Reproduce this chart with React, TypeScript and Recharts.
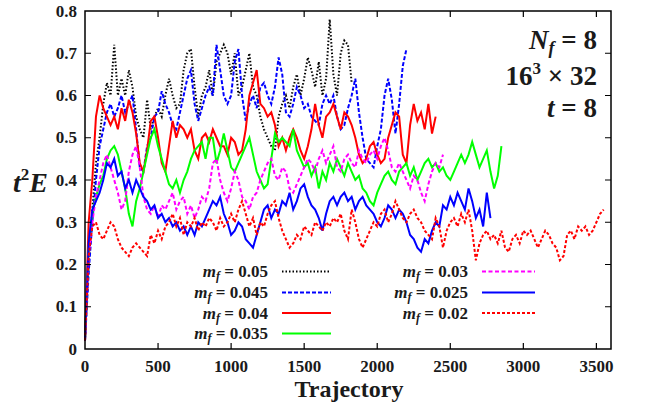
import { Line, LineChart, XAxis, YAxis } from "recharts";

const TRAJ_STEP = 25;
const xTicks = [0, 500, 1000, 1500, 2000, 2500, 3000, 3500];
const yTicks = [0, 0.1, 0.2, 0.3, 0.4, 0.5, 0.6, 0.7, 0.8];

// t^2 E per trajectory (every 25 trajectories)
const mf050 = [
  0.02, 0.2, 0.33, 0.44, 0.5, 0.58, 0.63, 0.6, 0.72, 0.6, 0.64, 0.6, 0.66, 0.62, 0.55, 0.52,
  0.5, 0.59, 0.52, 0.55, 0.57, 0.55, 0.6, 0.64, 0.6, 0.57, 0.58, 0.66, 0.7, 0.71, 0.62, 0.55,
  0.6, 0.62, 0.66, 0.6, 0.68, 0.7, 0.72, 0.7, 0.65, 0.7, 0.6, 0.62, 0.66, 0.7, 0.62, 0.6,
  0.55, 0.52, 0.5, 0.48, 0.47, 0.55, 0.58, 0.6, 0.57, 0.62, 0.65, 0.6, 0.64, 0.69, 0.66, 0.62,
  0.68, 0.6, 0.64, 0.78, 0.65, 0.6, 0.7, 0.73, 0.72, 0.63,
];
const mf045 = [
  0.02, 0.18, 0.3, 0.4, 0.48, 0.52, 0.56, 0.58, 0.55, 0.57, 0.6, 0.56, 0.58, 0.6, 0.52, 0.43,
  0.42, 0.48, 0.5, 0.55, 0.56, 0.61, 0.58, 0.56, 0.53, 0.52, 0.56, 0.6, 0.64, 0.66, 0.58, 0.54,
  0.57, 0.6, 0.62, 0.6, 0.72, 0.66, 0.6, 0.58, 0.6, 0.68, 0.71, 0.6, 0.54, 0.58, 0.6, 0.57,
  0.62, 0.63, 0.6, 0.58, 0.62, 0.69, 0.65, 0.56, 0.55, 0.58, 0.62, 0.6, 0.57, 0.58, 0.55, 0.54,
  0.53, 0.58, 0.6, 0.58, 0.6, 0.55, 0.52, 0.53, 0.57, 0.6, 0.64, 0.56, 0.5, 0.45, 0.44, 0.43,
  0.48, 0.52, 0.6, 0.64, 0.59, 0.51, 0.58, 0.67, 0.71,
];
const mf040 = [
  0.02, 0.3, 0.4, 0.55, 0.6, 0.57, 0.55, 0.53, 0.55, 0.52, 0.57, 0.54, 0.59, 0.56, 0.51, 0.44,
  0.42, 0.47, 0.54, 0.55, 0.5, 0.44, 0.42, 0.48, 0.54, 0.5, 0.53, 0.52, 0.5, 0.52, 0.47, 0.45,
  0.5, 0.51, 0.49, 0.52, 0.5, 0.48, 0.48, 0.46, 0.5, 0.49, 0.46, 0.47, 0.52, 0.6, 0.63, 0.66,
  0.58, 0.57, 0.55, 0.56, 0.53, 0.48, 0.5, 0.47, 0.5, 0.52, 0.5, 0.47, 0.45, 0.48, 0.52, 0.58,
  0.53, 0.5, 0.55, 0.56, 0.58, 0.55, 0.52, 0.56, 0.55, 0.53, 0.5, 0.46, 0.44, 0.45, 0.48, 0.49,
  0.46, 0.44, 0.45, 0.5, 0.53, 0.56, 0.55, 0.46, 0.44, 0.53, 0.58, 0.54, 0.56, 0.52, 0.58, 0.51,
  0.55,
];
const mf035 = [
  0.02, 0.24, 0.32, 0.36, 0.39, 0.41, 0.45, 0.47, 0.48, 0.46, 0.42, 0.38, 0.32, 0.29, 0.35, 0.38,
  0.42, 0.46, 0.5, 0.52, 0.48, 0.45, 0.42, 0.39, 0.38, 0.4, 0.37, 0.4, 0.42, 0.45, 0.47, 0.48,
  0.49, 0.45, 0.5, 0.5, 0.44, 0.47, 0.51, 0.47, 0.43, 0.42, 0.44, 0.46, 0.48, 0.5, 0.46, 0.42,
  0.4, 0.38, 0.39, 0.45, 0.51, 0.49, 0.5, 0.49, 0.48, 0.52, 0.47, 0.45, 0.43, 0.44, 0.41, 0.43,
  0.38, 0.42, 0.4, 0.44, 0.42, 0.45, 0.43, 0.41, 0.44, 0.42, 0.4, 0.41, 0.38, 0.37, 0.35, 0.34,
  0.37, 0.39, 0.41, 0.42, 0.4, 0.39, 0.42, 0.43, 0.44, 0.41, 0.43, 0.4, 0.42, 0.44, 0.45, 0.43,
  0.44, 0.42, 0.43, 0.41, 0.4, 0.42, 0.44, 0.46, 0.44, 0.46, 0.49, 0.46, 0.43, 0.45, 0.47, 0.42,
  0.38, 0.41, 0.48,
];
const mf030 = [
  0.02, 0.22, 0.3, 0.36, 0.4, 0.44, 0.46, 0.43, 0.4, 0.37, 0.33, 0.35, 0.42, 0.46, 0.48, 0.43,
  0.36, 0.33, 0.32, 0.34, 0.31, 0.34, 0.33, 0.35, 0.37, 0.33, 0.35, 0.36, 0.32, 0.34, 0.31, 0.33,
  0.36, 0.35, 0.38, 0.44, 0.45, 0.4, 0.37, 0.35, 0.38, 0.42, 0.4, 0.36, 0.35, 0.33, 0.36, 0.37,
  0.4, 0.42, 0.44, 0.45, 0.41, 0.4, 0.43, 0.42, 0.38, 0.37, 0.39, 0.41, 0.43, 0.45, 0.44, 0.42,
  0.45, 0.47, 0.44, 0.46, 0.48, 0.43, 0.42, 0.45, 0.46, 0.44, 0.43, 0.47, 0.45, 0.44, 0.46, 0.47,
  0.45, 0.48, 0.5, 0.47, 0.43, 0.42, 0.44, 0.42, 0.4, 0.38, 0.41, 0.4, 0.37, 0.35, 0.39, 0.42,
  0.44, 0.43, 0.46,
];
const mf025 = [
  0.02, 0.25, 0.33, 0.35, 0.37, 0.4, 0.44, 0.43, 0.45, 0.41, 0.42, 0.38, 0.4, 0.37, 0.4, 0.38,
  0.36, 0.35, 0.33, 0.34, 0.31, 0.32, 0.3, 0.31, 0.29, 0.3, 0.28, 0.29, 0.27, 0.29, 0.27, 0.3,
  0.29, 0.31, 0.33, 0.35, 0.34, 0.36, 0.32, 0.3, 0.27, 0.28, 0.3, 0.29, 0.26, 0.25, 0.24, 0.27,
  0.3, 0.33, 0.34, 0.31, 0.33, 0.32, 0.35, 0.34, 0.37, 0.33, 0.35, 0.38, 0.39, 0.36, 0.34, 0.33,
  0.31, 0.28, 0.32, 0.35, 0.36, 0.34, 0.36, 0.37, 0.35, 0.36, 0.33, 0.35, 0.36, 0.34, 0.33, 0.32,
  0.3, 0.29, 0.31, 0.34, 0.33, 0.31, 0.33, 0.32, 0.3, 0.27, 0.26, 0.24, 0.23, 0.26, 0.25, 0.28,
  0.3, 0.29, 0.34, 0.33, 0.36, 0.34, 0.37, 0.35, 0.33, 0.38, 0.35, 0.31, 0.33, 0.29, 0.37, 0.31,
];
const mf020 = [
  0.02, 0.22, 0.29, 0.3, 0.27, 0.26, 0.28, 0.3, 0.29, 0.26, 0.24, 0.23, 0.22, 0.24, 0.25, 0.24,
  0.23, 0.22, 0.27, 0.25, 0.28, 0.26, 0.29, 0.3, 0.32, 0.29, 0.31, 0.27, 0.3, 0.29, 0.31, 0.28,
  0.3, 0.29, 0.31, 0.3, 0.28, 0.31, 0.29, 0.3, 0.32, 0.3, 0.33, 0.35, 0.32, 0.29, 0.31, 0.27,
  0.3, 0.29, 0.32, 0.34, 0.35, 0.31, 0.28, 0.26, 0.24, 0.25, 0.27, 0.26, 0.29, 0.28, 0.27, 0.3,
  0.29, 0.28, 0.3, 0.29, 0.31, 0.3, 0.32, 0.28, 0.26, 0.33, 0.3, 0.26, 0.24, 0.26, 0.28, 0.3,
  0.29, 0.32, 0.33, 0.3, 0.32, 0.35, 0.33, 0.31, 0.3, 0.32, 0.33, 0.31, 0.3, 0.28, 0.27, 0.26,
  0.31, 0.29, 0.24, 0.28, 0.3, 0.31, 0.29, 0.32, 0.3, 0.33, 0.28, 0.21, 0.25, 0.27, 0.28, 0.26,
  0.27, 0.25, 0.28, 0.24, 0.23, 0.26, 0.27, 0.25, 0.28, 0.27, 0.28, 0.26, 0.24, 0.26, 0.28, 0.27,
  0.25, 0.24, 0.21, 0.22, 0.27, 0.28, 0.26, 0.29, 0.28, 0.29, 0.27, 0.28, 0.3, 0.32, 0.33,
];

const massLabels = ["0.05", "0.045", "0.04", "0.035", "0.03", "0.025", "0.02"];

const FONT = "'Liberation Serif', 'Times New Roman', serif";
const INK = "#1a1a1a";

// plot box: 85..611 horizontally, 11..349 vertically
const PLOT = { left: 85, top: 11, width: 526, height: 338 };
const MARGIN = { top: PLOT.top, right: 645 - PLOT.left - PLOT.width, bottom: 28, left: 25 };

type Series = { mass: string; values: number[]; color: string; dash?: string };

const series: Series[] = [
  { mass: massLabels[0], values: mf050, color: "#000000", dash: "1.5 2" },
  { mass: massLabels[1], values: mf045, color: "#0000ff", dash: "4 2" },
  { mass: massLabels[2], values: mf040, color: "#ff0000" },
  { mass: massLabels[3], values: mf035, color: "#00ff00" },
  { mass: massLabels[4], values: mf030, color: "#ff00ff", dash: "4 2.5" },
  { mass: massLabels[5], values: mf025, color: "#0000ff" },
  { mass: massLabels[6], values: mf020, color: "#ff0000", dash: "3 2" },
];

const toData = (values: number[]) => values.map((v, i) => ({ t: i * TRAJ_STEP, v }));

// x ticks point inward and are mirrored on the top edge
function BottomTick(props: any) {
  const x = Number(props.x);
  const y = Number(props.y);
  const edge = props.payload.value === 0;
  return (
    <g>
      {!edge && (
        <path
          d={`M${x},${y}v-6M${x},${PLOT.top}v6`}
          stroke="#000"
          strokeWidth={1.2}
          fill="none"
        />
      )}
      <text x={x} y={y + 23} textAnchor="middle" fontFamily={FONT} fontWeight="bold" fontSize={17} fill={INK}>
        {props.payload.value}
      </text>
    </g>
  );
}

function LeftTick(props: any) {
  const x = Number(props.x);
  const y = Number(props.y);
  const v = props.payload.value as number;
  const edge = v === 0 || v === 0.8;
  return (
    <g>
      {!edge && (
        <path
          d={`M${x},${y}h6M${PLOT.left + PLOT.width},${y}h-6`}
          stroke="#000"
          strokeWidth={1.2}
          fill="none"
        />
      )}
      <text x={x - 8} y={y + 5.5} textAnchor="end" fontFamily={FONT} fontWeight="bold" fontSize={17} fill={INK}>
        {v === 0 ? "0" : v.toFixed(1)}
      </text>
    </g>
  );
}

function LegendRow({ s, textX, lineX1, lineX2, y }: { s: Series; textX: number; lineX1: number; lineX2: number; y: number }) {
  return (
    <g>
      <text x={textX} y={y + 5.5} textAnchor="end" fontFamily={FONT} fontWeight="bold" fontSize={17} fill={INK}>
        <tspan fontStyle="italic">m</tspan>
        <tspan fontStyle="italic" fontSize={12} dy={3}>f</tspan>
        <tspan dy={-3}>{` = ${s.mass}`}</tspan>
      </text>
      <line x1={lineX1} y1={y} x2={lineX2} y2={y} stroke={s.color} strokeWidth={2} strokeDasharray={s.dash} />
    </g>
  );
}

export default function App() {
  const rowsY = [271.5, 292.5, 313, 333.5];
  return (
    <div style={{ position: "absolute", left: 0, top: 0, width: 645, height: 407, background: "#fff" }}>
      <LineChart width={645} height={407} margin={MARGIN}>
        <XAxis
          dataKey="t"
          type="number"
          domain={[0, 3600]}
          ticks={xTicks}
          height={30}
          tickSize={0}
          tickMargin={0}
          tick={<BottomTick />}
          axisLine={false}
          tickLine={false}
        />
        <YAxis
          type="number"
          domain={[0, 0.8]}
          ticks={yTicks}
          width={60}
          tickSize={0}
          tickMargin={0}
          tick={<LeftTick />}
          axisLine={false}
          tickLine={false}
        />
        {series.map((s) => (
          <Line
            key={s.mass}
            data={toData(s.values)}
            dataKey="v"
            type="linear"
            stroke={s.color}
            strokeWidth={2}
            strokeDasharray={s.dash}
            dot={false}
            activeDot={false}
            isAnimationActive={false}
          />
        ))}
      </LineChart>
      <svg
        width={645}
        height={407}
        style={{ position: "absolute", left: 0, top: 0, pointerEvents: "none" }}
      >
        <rect
          x={PLOT.left}
          y={PLOT.top}
          width={PLOT.width}
          height={PLOT.height}
          fill="none"
          stroke="#000"
          strokeWidth={1.5}
        />
        {series.slice(0, 4).map((s, i) => (
          <LegendRow key={s.mass} s={s} textX={268} lineX1={282} lineX2={331} y={rowsY[i]} />
        ))}
        {series.slice(4).map((s, i) => (
          <LegendRow key={s.mass} s={s} textX={468} lineX1={482} lineX2={535} y={rowsY[i]} />
        ))}

        <text x={597} y={49} textAnchor="end" fontFamily={FONT} fontWeight="bold" fontSize={27} fill={INK}>
          <tspan fontStyle="italic">N</tspan>
          <tspan fontStyle="italic" fontSize={18} dy={5}>f</tspan>
          <tspan dy={-5}>{" = 8"}</tspan>
        </text>
        <text x={597} y={85} textAnchor="end" fontFamily={FONT} fontWeight="bold" fontSize={27} fill={INK}>
          <tspan>16</tspan>
          <tspan fontSize={17} dy={-11}>3</tspan>
          <tspan dy={11}>{" × 32"}</tspan>
        </text>
        <text x={597} y={117} textAnchor="end" fontFamily={FONT} fontWeight="bold" fontSize={27} fill={INK}>
          <tspan fontStyle="italic">t</tspan>
          <tspan>{" = 8"}</tspan>
        </text>

        <text x={13} y={192} fontFamily={FONT} fontWeight="bold" fontStyle="italic" fontSize={28} fill={INK}>
          <tspan>t</tspan>
          <tspan fontStyle="normal" fontSize={17} dy={-12}>2</tspan>
          <tspan dy={12}>E</tspan>
        </text>
        <text x={349} y={397} textAnchor="middle" fontFamily={FONT} fontWeight="bold" fontSize={24} fill={INK}>
          Trajectory
        </text>
      </svg>
    </div>
  );
}
